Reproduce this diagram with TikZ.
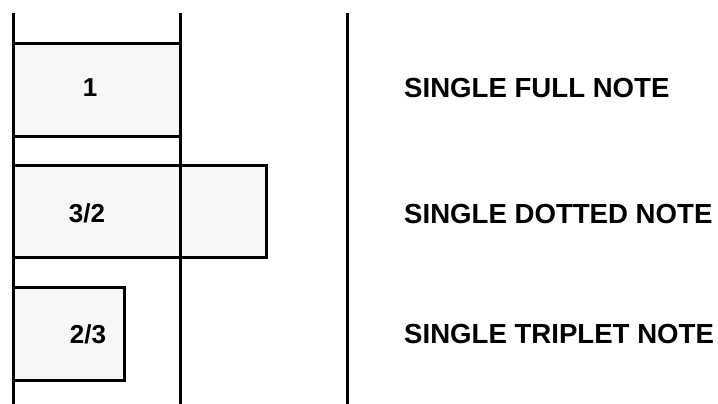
\documentclass[tikz,border=0pt]{standalone}
\usepackage{fontspec}
\setmainfont{Liberation Sans}
\definecolor{boxfill}{HTML}{F7F7F7}
\tikzset{
  notebox/.style={draw=black, line width=3pt, fill=boxfill, rectangle, inner sep=0pt, outer sep=0pt, anchor=north west},
  barline/.style={draw=black, line width=3pt},
  numtext/.style={font=\bfseries\fontsize{26}{30}\selectfont, inner sep=0pt},
  labtext/.style={font=\bfseries\fontsize{27.6}{32}\selectfont, inner sep=0pt, anchor=west},
}
\begin{document}
\begin{tikzpicture}[x=1pt, y=-1pt]
\useasboundingbox (0,0) rectangle (718,404);
% note boxes
\node[notebox, minimum width=167pt, minimum height=92pt] (b1) at (13,44) {};
\node[notebox, minimum width=253pt, minimum height=92pt] (b2) at (13,165) {};
\node[notebox, minimum width=111pt, minimum height=93pt] (b3) at (13,287) {};
% bar lines
\coordinate (l1t) at (13,13);  \coordinate (l1b) at (13,406);
\coordinate (l2t) at (180,13); \coordinate (l2b) at (180,406);
\coordinate (l3t) at (347,13); \coordinate (l3b) at (347,406);
\draw[barline] (l1t) -- (l1b);
\draw[barline] (l2t) -- (l2b);
\draw[barline] (l3t) -- (l3b);
% numbers
\node[numtext] (n1) at (90,88) {1};
\node[numtext] (n2) at (87,213) {3/2};
\node[numtext] (n3) at (88,334) {2/3};
% labels
\node[labtext] (t1) at (404,88) {SINGLE FULL NOTE};
\node[labtext] (t2) at (404,214) {SINGLE DOTTED NOTE};
\node[labtext] (t3) at (404,334) {SINGLE TRIPLET NOTE};
\end{tikzpicture}
\end{document}
